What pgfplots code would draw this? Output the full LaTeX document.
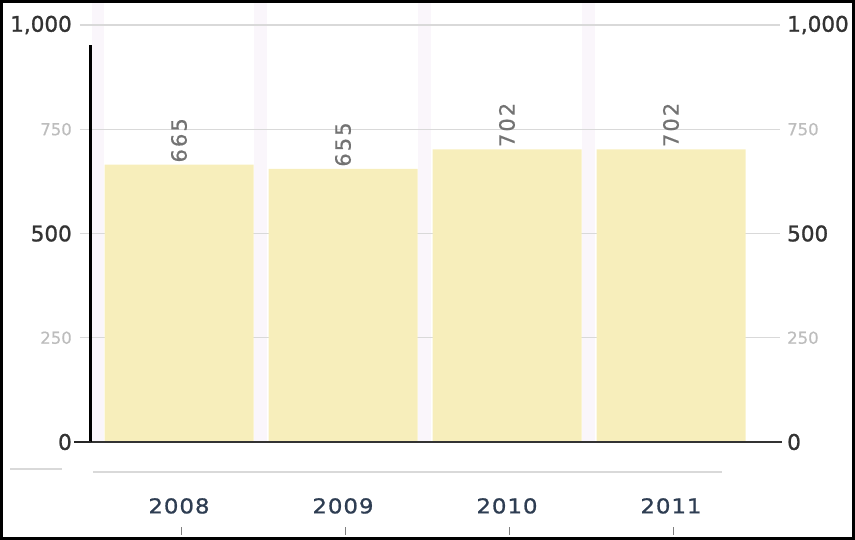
\documentclass[border=0pt]{standalone}
\usepackage{pgfplots}
\pgfplotsset{compat=1.18}
\usepackage{fontspec}
\setmainfont{DejaVu Sans}
\definecolor{barfill}{HTML}{F7EEBB}
\definecolor{lav}{HTML}{FAF6FB}
\definecolor{gridc}{HTML}{D9D9D9}
\definecolor{darkt}{HTML}{333333}
\definecolor{lightt}{HTML}{BDBDBD}
\definecolor{valc}{HTML}{737373}
\definecolor{yearc}{HTML}{2E3D52}
\newcommand\TB[1]{{\fontsize{21.5}{21.5}\selectfont\addfontfeature{FakeBold=1.2}\color{darkt}#1}}
\newcommand\TS[1]{{\fontsize{16.5}{16.5}\selectfont\addfontfeature{FakeBold=0.5}\color{lightt}#1}}
\begin{document}
\begin{tikzpicture}[x=1pt,y=1pt]
\useasboundingbox (0,0) rectangle (855,540);
\foreach \xa/\xb in {92/104,254/267,418/431,582/595} \fill[lav] (\xa,98) rectangle (\xb,537);
\begin{axis}[
  at={(91pt,98pt)}, anchor=south west, scale only axis,
  width=689pt, height=417pt,
  xmin=-0.5366, xmax=3.6646, ymin=0, ymax=1000,
  clip=false,
  axis line style={draw=none},
  xtick={0,1,2,3}, xticklabels={2008,2009,2010,2011},
  x tick style={draw=none},
  xticklabel style={font=\fontsize{20.5}{20.5}\selectfont\addfontfeature{LetterSpace=4,FakeBold=0.8}, text=yearc, anchor=north, inner sep=0pt, yshift=-45pt, xscale=1.12},
  ytick={0,250,500,750,1000},
  yticklabels={\TB{0},\TS{250},\TB{500},\TS{750},{\TB{1,000}}},
  ymajorgrids, grid style={gridc, line width=1.2pt},
  ytick pos=left, tick align=outside, major tick length=11pt,
  y tick style={gridc, line width=1.2pt},
  yticklabel style={anchor=east, inner sep=0pt, xshift=-8pt},
  ybar, bar width=0.9085,
  /pgf/number format/assume math mode=true,
  nodes near coords,
  every node near coord/.append style={rotate=90, anchor=west, inner sep=2pt, text=valc, font=\fontsize{21}{21}\selectfont\addfontfeature{LetterSpace=10,FakeBold=0.6}},
]
\addplot[fill=barfill, draw=none] coordinates {(0,665) (1,655) (2,702) (3,702)};
\draw[black!80, line width=2.5pt] (axis cs:-0.5366,0) -- (axis cs:3.677,0);
\draw[black, line width=3pt] (axis cs:-0.5366,0) -- (axis cs:-0.5366,952);
\draw[black!85, line width=2.5pt] (axis cs:-0.5366,0) -- (axis cs:-0.64,0);
\end{axis}
\begin{axis}[
  at={(91pt,98pt)}, anchor=south west, scale only axis,
  width=689pt, height=417pt,
  xmin=-0.5366, xmax=3.6646, ymin=0, ymax=1000,
  axis line style={draw=none},
  xtick=\empty,
  ytick={0,250,500,750,1000},
  yticklabels={\TB{0},\TS{250},\TB{500},\TS{750},{\TB{1,000}}},
  ytick pos=right, yticklabel pos=right, major tick length=0pt,
  yticklabel style={anchor=west, inner sep=0pt, xshift=7pt},
]
\end{axis}
\draw[gridc, line width=1.5pt] (93,68) -- (722,68);
\draw[gridc, line width=1.5pt] (10,71) -- (62,71);
\foreach \xx in {181,345,509,673} \draw[gray, line width=1pt] (\xx,5) -- (\xx,13);
\draw[black, line width=3pt] (1.5,1.5) rectangle (853.5,538.5);
\end{tikzpicture}
\end{document}
